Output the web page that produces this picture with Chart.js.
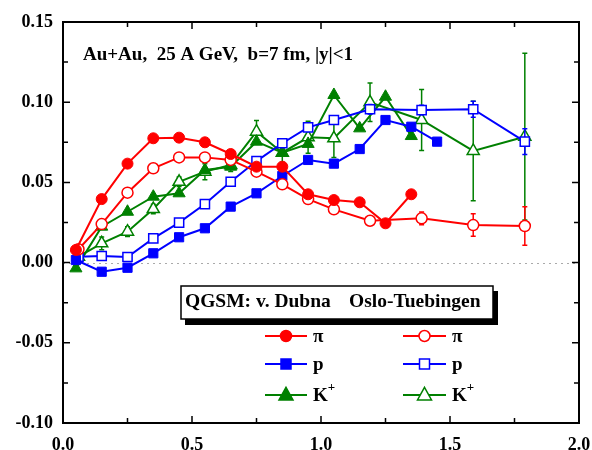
<!DOCTYPE html>
<html>
<head>
<meta charset="utf-8">
<script src="https://cdn.jsdelivr.net/npm/chart.js@4.4.0/dist/chart.umd.min.js"></script>
<style>
  html, body { margin: 0; padding: 0; background: #fff; }
  canvas { display: block; }
</style>
</head>
<body>
<canvas id="v2Chart" width="592" height="450"></canvas>
<script>
// QGSM model points (filled symbols)
const modelX   = [0.05, 0.15, 0.25, 0.35, 0.45, 0.55, 0.65, 0.75, 0.85, 0.95, 1.05, 1.15, 1.25, 1.35, 1.45];
const piModel  = [0.0079, 0.0396, 0.0617, 0.0775, 0.0779, 0.075, 0.0677, 0.0598, 0.0598, 0.0426, 0.039, 0.0376, 0.0245, 0.0426];
const pModel   = [0.0016, -0.0057, -0.0032, 0.0058, 0.0158, 0.0214, 0.0349, 0.0432, 0.054, 0.064, 0.0617, 0.0708, 0.0889, 0.0847, 0.0754];
const kModel   = [-0.0036, 0.0224, 0.0317, 0.0411, 0.0432, 0.0577, 0.0598, 0.0754, 0.0685, 0.074, 0.1045, 0.0837, 0.1034, 0.0789];

// Oslo-Tuebingen points (open symbols) with errors
const dataX    = [0.06, 0.15, 0.25, 0.35, 0.45, 0.55, 0.65, 0.75, 0.85, 0.95, 1.05, 1.19, 1.39, 1.59, 1.79];
const piData   = [0.0083, 0.024, 0.0436, 0.0588, 0.0656, 0.0656, 0.064, 0.0567, 0.0488, 0.0396, 0.0332, 0.0261, 0.0276, 0.0234, 0.0228];
const piErr    = [0.002, 0.002, 0.002, 0.002, 0.002, 0.002, 0.002, 0.002, 0.002, 0.002, 0.002, 0.002, 0.004, 0.007, 0.012];
const pData    = [0.0037, 0.0041, 0.0035, 0.0151, 0.0249, 0.0365, 0.0504, 0.0633, 0.0744, 0.0843, 0.0889, 0.0956, 0.0951, 0.0956, 0.0754];
const pErr     = [0.002, 0.002, 0.002, 0.002, 0.002, 0.002, 0.002, 0.002, 0.002, 0.002, 0.002, 0.003, 0.003, 0.005, 0.008];
const kData    = [0.0037, 0.012, 0.0193, 0.0334, 0.0504, 0.0567, 0.0608, 0.0816, 0.0685, 0.0781, 0.0775, 0.0999, 0.0889, 0.0696, 0.0785];
const kErr     = [0.003, 0.004, 0.003, 0.003, 0.003, 0.005, 0.004, 0.007, 0.006, 0.01, 0.012, 0.012, 0.019, 0.031, 0.052];

const yTicks = [-0.10, -0.05, 0.00, 0.05, 0.10, 0.15];
const xTicks = [0.0, 0.5, 1.0, 1.5, 2.0];

const RED = '#ff0000', BLUE = '#0000ff', GREEN = '#008000';
const FONT = '"Liberation Serif", "Times New Roman", serif';

const pts = (xs, ys) => ys.map((v, i) => ({ x: xs[i], y: v }));

function series(label, xs, ys, color, style, open, radius, err) {
    return {
        label: label,
        data: pts(xs, ys),
        borderColor: color,
        backgroundColor: open ? '#fff' : color,
        pointBackgroundColor: open ? '#fff' : color,
        pointBorderColor: color,
        pointBorderWidth: open ? 1.5 : 1,
        pointStyle: style,
        pointRadius: radius,
        borderWidth: 2,
        tension: 0,
        errors: err || null
    };
}

// error bars, drawn just before each dataset so markers sit on top
const errorBars = {
    id: 'errorBars',
    beforeDatasetDraw(chart, args) {
        const ds = chart.data.datasets[args.index];
        if (!ds.errors) return;
        const { ctx, scales: { x, y } } = chart;
        ctx.save();
        ctx.strokeStyle = ds.borderColor;
        ctx.lineWidth = 1.5;
        ds.data.forEach((p, i) => {
            const e = ds.errors[i];
            const px = x.getPixelForValue(p.x);
            const y1 = y.getPixelForValue(p.y + e), y2 = y.getPixelForValue(p.y - e);
            ctx.beginPath();
            ctx.moveTo(px, y1); ctx.lineTo(px, y2);
            ctx.moveTo(px - 2.5, y1); ctx.lineTo(px + 2.5, y1);
            ctx.moveTo(px - 2.5, y2); ctx.lineTo(px + 2.5, y2);
            ctx.stroke();
        });
        ctx.restore();
    }
};

const zeroLine = {
    id: 'zeroLine',
    beforeDatasetsDraw(chart) {
        const { ctx, chartArea: a, scales: { y } } = chart;
        const py = Math.round(y.getPixelForValue(0)) + 0.5;
        ctx.save();
        ctx.strokeStyle = '#aaa';
        ctx.lineWidth = 1;
        ctx.setLineDash([2, 4]);
        ctx.beginPath(); ctx.moveTo(a.left, py); ctx.lineTo(a.right, py); ctx.stroke();
        ctx.restore();
    }
};

function drawMarker(ctx, style, color, open, r, cx, cy) {
    ctx.save();
    ctx.fillStyle = open ? '#fff' : color;
    ctx.strokeStyle = color;
    ctx.lineWidth = 1.5;
    ctx.beginPath();
    if (style === 'circle') ctx.arc(cx, cy, r, 0, Math.PI * 2);
    else if (style === 'rect') ctx.rect(cx - r, cy - r, 2 * r, 2 * r);
    else { ctx.moveTo(cx, cy - r * 1.1); ctx.lineTo(cx + r, cy + r * 0.7); ctx.lineTo(cx - r, cy + r * 0.7); ctx.closePath(); }
    ctx.fill(); ctx.stroke();
    ctx.restore();
}

const frameAndText = {
    id: 'frameAndText',
    afterDraw(chart) {
        const { ctx, chartArea: a, scales: { x, y } } = chart;
        ctx.save();
        ctx.strokeStyle = '#000';
        ctx.lineWidth = 2;
        ctx.strokeRect(a.left, a.top, a.right - a.left, a.bottom - a.top);
        ctx.lineWidth = 1.5;
        ctx.beginPath();
        for (let k = 0; k <= 10; k++) {
            const py = y.getPixelForValue(-0.1 + k * 0.025);
            const len = k % 2 === 0 ? 7 : 5;
            ctx.moveTo(a.left, py); ctx.lineTo(a.left + len, py);
            ctx.moveTo(a.right, py); ctx.lineTo(a.right - len, py);
        }
        for (let k = 0; k <= 8; k++) {
            const px = x.getPixelForValue(k * 0.25);
            const len = k % 2 === 0 ? 7 : 5;
            ctx.moveTo(px, a.bottom); ctx.lineTo(px, a.bottom - len);
            ctx.moveTo(px, a.top); ctx.lineTo(px, a.top + len);
        }
        ctx.stroke();

        // title
        ctx.fillStyle = '#000';
        ctx.font = 'bold 19px ' + FONT;
        ctx.textBaseline = 'alphabetic';
        ctx.fillText('Au+Au,  25 A GeV,  b=7 fm, |y|<1', 83, 60);

        // legend box with shadow
        ctx.fillRect(185, 291, 313, 34);
        ctx.fillStyle = '#fff';
        ctx.fillRect(181, 286, 312, 33);
        ctx.lineWidth = 1.5;
        ctx.strokeRect(181, 286, 312, 33);
        ctx.fillStyle = '#000';
        ctx.font = 'bold 19.5px ' + FONT;
        ctx.fillText('QGSM: v. Dubna', 185, 307);
        ctx.fillText('Oslo-Tuebingen', 349, 307);

        const rows = [
            { y: 336, color: RED, style: 'circle', r: 5.5, label: 'π' },
            { y: 364, color: BLUE, style: 'rect', r: 5, label: 'p' },
            { y: 395, color: GREEN, style: 'triangle', r: 7, label: 'K' }
        ];
        const cols = [{ x0: 265, x1: 307, open: false, tx: 313 }, { x0: 403, x1: 446, open: true, tx: 452 }];
        rows.forEach(row => {
            cols.forEach(c => {
                ctx.strokeStyle = row.color;
                ctx.lineWidth = 2;
                ctx.beginPath(); ctx.moveTo(c.x0, row.y); ctx.lineTo(c.x1, row.y); ctx.stroke();
                drawMarker(ctx, row.style, row.color, c.open, row.r, (c.x0 + c.x1) / 2, row.y);
                ctx.fillStyle = '#000';
                ctx.font = 'bold 19px ' + FONT;
                ctx.textBaseline = 'middle';
                ctx.fillText(row.label, c.tx, row.y + 1);
                if (row.label === 'K') {
                    const w = ctx.measureText('K').width;
                    ctx.font = 'bold 13px ' + FONT;
                    ctx.fillText('+', c.tx + w, row.y - 7);
                }
            });
        });
        ctx.restore();
    }
};

// keep the plot frame fixed: no extra room for edge labels
const noEdgePad = s => { s.paddingLeft = 0; s.paddingRight = 0; s.paddingTop = 0; s.paddingBottom = 0; };

new Chart(document.getElementById('v2Chart'), {
    type: 'line',
    data: {
        datasets: [
            series('π QGSM', modelX, piModel, RED, 'circle', false, 5.5),
            series('π Oslo-Tuebingen', dataX, piData, RED, 'circle', true, 5.5, piErr),
            series('p QGSM', modelX, pModel, BLUE, 'rect', false, 6.5),
            series('p Oslo-Tuebingen', dataX, pData, BLUE, 'rect', true, 6.5, pErr),
            series('K+ QGSM', modelX, kModel, GREEN, 'triangle', false, 7),
            series('K+ Oslo-Tuebingen', dataX, kData, GREEN, 'triangle', true, 7, kErr)
        ]
    },
    options: {
        responsive: false,
        animation: false,
        devicePixelRatio: 1,
        layout: { padding: { top: 22, right: 13, left: 0, bottom: 0 } },
        plugins: { legend: { display: false }, tooltip: { enabled: false } },
        scales: {
            x: {
                type: 'linear', min: 0, max: 2,
                afterBuildTicks: s => { s.ticks = xTicks.map(v => ({ value: v })); },
                afterFit: s => { s.height = 27; noEdgePad(s); },
                grid: { display: false, drawTicks: false },
                border: { display: false },
                ticks: { color: '#000', padding: 12, font: { family: FONT, size: 18, weight: 'bold' },
                         callback: v => v.toFixed(1) }
            },
            y: {
                type: 'linear', min: -0.1, max: 0.15,
                afterBuildTicks: s => { s.ticks = yTicks.map(v => ({ value: v })); },
                afterFit: s => { s.width = 63; noEdgePad(s); },
                grid: { display: false, drawTicks: false },
                border: { display: false },
                ticks: { color: '#000', padding: 10, font: { family: FONT, size: 18, weight: 'bold' },
                         callback: v => v.toFixed(2) }
            }
        }
    },
    plugins: [zeroLine, errorBars, frameAndText]
});
</script>
</body>
</html>
